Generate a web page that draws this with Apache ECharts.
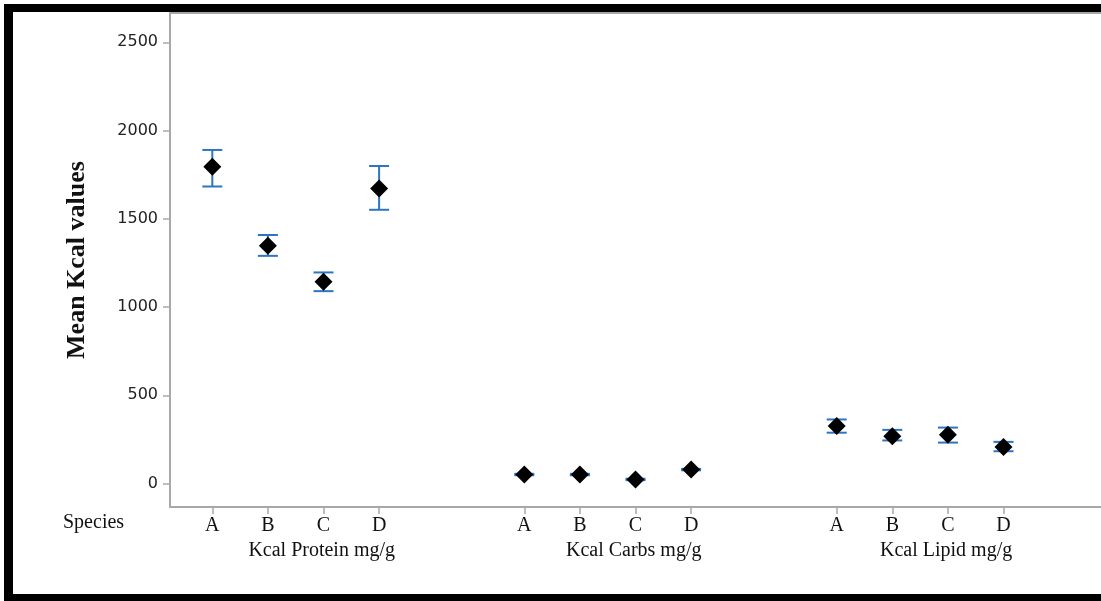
<!DOCTYPE html>
<html>
<head>
<meta charset="utf-8">
<script src="https://cdn.jsdelivr.net/npm/echarts@6/dist/echarts.min.js"></script>
<style>
html,body{margin:0;padding:0;background:#fff;}
#chart{width:1101px;height:601px;}
</style>
</head>
<body>
<div id="chart"></div>
<script>
const categories = ['A', 'B', 'C', 'D'];
const groupTitles = ['Kcal Protein mg/g', 'Kcal Carbs mg/g', 'Kcal Lipid mg/g'];
const yTicks = [0, 500, 1000, 1500, 2000, 2500];
const yMin = -133;
const yMax = 2666;

const proteinMean = [1795, 1347, 1143, 1672];
const proteinLow  = [1683, 1290, 1090, 1551];
const proteinHigh = [1890, 1408, 1196, 1799];

const carbsMean = [51, 51, 23, 79];
const carbsLow  = [47, 47, 19, 75];
const carbsHigh = [55, 55, 27, 83];

const lipidMean = [326, 268, 276, 207];
const lipidLow  = [288, 244, 232, 183];
const lipidHigh = [363, 304, 317, 236];

const means = [proteinMean, carbsMean, lipidMean];
const lows = [proteinLow, carbsLow, lipidLow];
const highs = [proteinHigh, carbsHigh, lipidHigh];

const grey = '#a8a8a8';
const errColor = '#2e74c4';
const serif = 'Liberation Serif';

// layout of the three panels (pixels)
const panelLeft = [184.5, 496.5, 808.9];
const panelWidth = 222.4;
const gridTop = 13;
const gridBottom = 94;

const grids = [{ left: 170, right: 0, top: gridTop, bottom: gridBottom, show: false }];
const frameLine = { show: true, onZero: false, lineStyle: { color: grey, width: 2 } };
const xAxes = [
  { gridIndex: 0, type: 'value', min: 0, max: 1, position: 'bottom', axisLine: frameLine, axisTick: { show: false }, axisLabel: { show: false }, splitLine: { show: false } },
  { gridIndex: 0, type: 'value', min: 0, max: 1, position: 'top', axisLine: frameLine, axisTick: { show: false }, axisLabel: { show: false }, splitLine: { show: false } }
];
const yAxes = [{
  gridIndex: 0, type: 'value', min: yMin, max: yMax,
  name: 'Mean Kcal values', nameLocation: 'middle', nameGap: 80,
  nameTextStyle: { fontFamily: serif, fontWeight: 'bold', fontSize: 26, color: '#111' },
  axisLine: { show: true, onZero: false, lineStyle: { color: grey, width: 2 } },
  axisTick: { show: true, length: 7, customValues: yTicks, lineStyle: { color: grey, width: 1.5 } },
  axisLabel: { customValues: yTicks, margin: 12, fontFamily: 'DejaVu Sans', fontSize: 16, color: '#222',
    formatter: function (v) { return String(v); } },
  splitLine: { show: false }
}];
const series = [];

for (let g = 0; g < 3; g++) {
  const gi = g + 1;
  grids.push({ left: panelLeft[g], width: panelWidth, top: gridTop, bottom: gridBottom });
  xAxes.push({
    gridIndex: gi, type: 'category', data: categories, boundaryGap: true, position: 'bottom',
    name: groupTitles[g], nameLocation: 'middle', nameGap: 32,
    nameTextStyle: { fontFamily: serif, fontSize: 20, color: '#111', padding: [0, 0, 0, 52] },
    axisLine: { show: true, onZero: false, lineStyle: { color: grey, width: 2 } },
    axisTick: { show: true, alignWithLabel: true, length: 7, lineStyle: { color: grey, width: 1.5 } },
    axisLabel: { margin: 9, fontFamily: serif, fontSize: 20, color: '#111' }
  });
  yAxes.push({ gridIndex: gi, type: 'value', min: yMin, max: yMax, show: false });

  const errData = categories.map((c, i) => [i, lows[g][i], highs[g][i]]);
  series.push({
    type: 'custom', xAxisIndex: gi + 1, yAxisIndex: gi, z: 1,
    data: errData,
    renderItem: function (params, api) {
      const x = api.value(0);
      const lo = api.coord([x, api.value(1)]);
      const hi = api.coord([x, api.value(2)]);
      const hw = 10;
      const st = { stroke: errColor, lineWidth: 2, fill: null };
      return {
        type: 'group',
        children: [
          { type: 'line', shape: { x1: lo[0], y1: lo[1], x2: hi[0], y2: hi[1] }, style: st },
          { type: 'line', shape: { x1: lo[0] - hw, y1: lo[1], x2: lo[0] + hw, y2: lo[1] }, style: st },
          { type: 'line', shape: { x1: hi[0] - hw, y1: hi[1], x2: hi[0] + hw, y2: hi[1] }, style: st }
        ]
      };
    }
  });
  series.push({
    type: 'scatter', xAxisIndex: gi + 1, yAxisIndex: gi, z: 2,
    symbol: 'diamond', symbolSize: [18, 18],
    itemStyle: { color: '#000', opacity: 1 },
    data: means[g].map((v, i) => [i, v])
  });
}

const chart = echarts.init(document.getElementById('chart'), null, { renderer: 'canvas' });
chart.setOption({
  animation: false,
  backgroundColor: '#fff',
  grid: grids,
  xAxis: xAxes,
  yAxis: yAxes,
  series: series,
  graphic: [
    { type: 'rect', shape: { x: 4, y: 4, width: 1097, height: 8 }, style: { fill: '#000' } },
    { type: 'rect', shape: { x: 4, y: 4, width: 9, height: 597 }, style: { fill: '#000' } },
    { type: 'rect', shape: { x: 4, y: 594, width: 1097, height: 7 }, style: { fill: '#000' } },
    { type: 'text', left: 63, top: 513, style: { text: 'Species', fontFamily: serif, fontSize: 20, fill: '#111' } }
  ]
});
</script>
</body>
</html>
